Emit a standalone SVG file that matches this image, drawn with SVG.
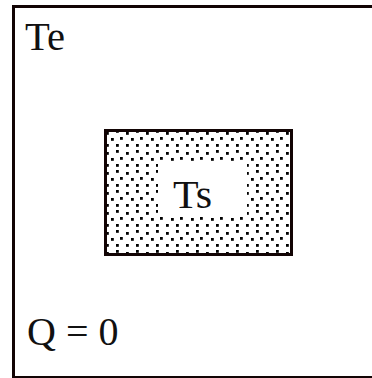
<svg xmlns="http://www.w3.org/2000/svg" width="372" height="378" viewBox="0 0 372 378">
  <style>
    .lbl { font-family: "Liberation Serif", "Times New Roman", serif; font-size: 40px; fill: #111; }
    .frame { fill: none; stroke: #120404; }
    .dot { fill: #000; }
  </style>
  <defs>
    <pattern id="stipple" x="105" y="130" width="20" height="20" patternUnits="userSpaceOnUse">
      <rect class="dot" x="1" y="2" width="2.8" height="2.8"/>
      <rect class="dot" x="11" y="0" width="2.8" height="2.8"/>
      <rect class="dot" x="6" y="8" width="2.8" height="2.8"/>
      <rect class="dot" x="15" y="7" width="2.8" height="2.8"/>
      <rect class="dot" x="1" y="14" width="2.8" height="2.8"/>
      <rect class="dot" x="11" y="14" width="2.8" height="2.8"/>
    </pattern>
  </defs>
  <rect width="372" height="378" fill="#fff"/>
  <g id="environment">
    <path class="frame" d="M13.5 6.5 H373 M13.5 5 V378" stroke-width="3"/>
    <path class="frame" d="M12 377 H373" stroke-width="2"/>
    <text class="lbl" x="25" y="50" textLength="40" lengthAdjust="spacingAndGlyphs">Te</text>
    <text class="lbl" x="27" y="345">Q = 0</text>
  </g>
  <g id="system">
    <rect x="105.5" y="130.5" width="186" height="124" fill="url(#stipple)"/>
    <rect x="158" y="163" width="89" height="52" fill="#fff"/>
    <rect class="frame" x="105.5" y="130.5" width="186" height="124" stroke-width="3"/>
    <text class="lbl" x="173" y="208" textLength="39" lengthAdjust="spacingAndGlyphs">Ts</text>
  </g>
</svg>
